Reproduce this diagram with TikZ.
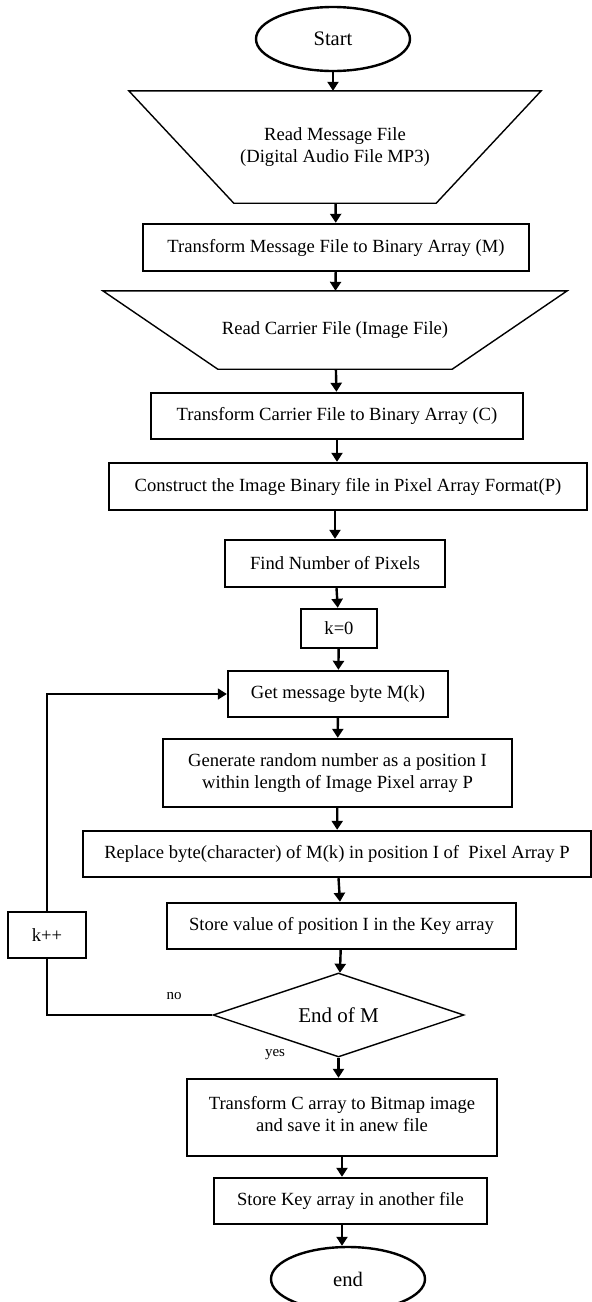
\documentclass[tikz,border=0pt]{standalone}
\usepackage{fontspec}
\setmainfont{Liberation Serif}
\usetikzlibrary{shapes.geometric,arrows.meta}

\begin{document}
\begin{tikzpicture}[x=0.5pt, y=-0.5pt, line width=1.2pt, >={Triangle[length=4.5pt,width=5.5pt]},
  blk/.style={draw, rectangle, inner sep=0pt, align=center, font=\fontsize{9.3}{11}\selectfont},
  term/.style={draw, ellipse, inner sep=0pt, minimum width=77pt, minimum height=32pt, font=\fontsize{10.3}{12}\selectfont},
  io/.style={inner sep=0pt, align=center, font=\fontsize{9.3}{11}\selectfont},
  thin line/.style={line width=0.7pt},
  lbl/.style={font=\fontsize{7.5}{9}\selectfont}]
  \useasboundingbox (0,0) rectangle (592,1302);
  \node[term] (start) at (333,39) {Start};
  \node[io, minimum width=205pt, minimum height=55pt] (rmsg) at (335,147) {Read Message File\\(Digital Audio File MP3)};
  \node[blk, minimum width=193pt, minimum height=23.5pt] (tmsg) at (336,247.5) {Transform Message File to Binary Array (M)};
  \node[io, minimum width=231pt, minimum height=38pt] (rcar) at (335,330) {Read Carrier File (Image File)};
  \node[blk, minimum width=186pt, minimum height=23pt] (tcar) at (337,416) {Transform Carrier File to Binary Array (C)};
  \node[blk, minimum width=239pt, minimum height=23.5pt] (cons) at (348,486.5) {Construct the Image Binary file in Pixel Array Format(P)};
  \node[blk, minimum width=110pt, minimum height=23.5pt] (find) at (335,563.5) {Find Number of Pixels};
  \node[blk, minimum width=38pt, minimum height=19.5pt] (kzero) at (339,628.5) {k=0};
  \node[blk, minimum width=110pt, minimum height=23pt] (getm) at (338,694) {Get message byte M(k)};
  \node[blk, minimum width=174.5pt, minimum height=34pt] (gen) at (337.5,773) {Generate random number as a position I\\within length of Image Pixel array P};
  \node[blk, minimum width=254pt, minimum height=23pt] (repl) at (337,854) {Replace byte(character) of M(k) in position I of\ \ Pixel Array P};
  \node[blk, minimum width=174.5pt, minimum height=23pt] (stval) at (341.5,926) {Store value of position I in the Key array};
  \node[draw, diamond, aspect=3, inner sep=0pt, thin line, minimum width=125.5pt, minimum height=42pt, font=\fontsize{10.5}{12}\selectfont] (endm) at (338.5,1015) {End of M};
  \node[blk, minimum width=39pt, minimum height=23pt] (kinc) at (47,935) {k++};
  \node[blk, minimum width=155pt, minimum height=38.5pt] (tcarr) at (342,1117.5) {Transform C array to Bitmap image\\and save it in anew file\\[-7pt]};
  \node[blk, minimum width=136.5pt, minimum height=23pt] (stkey) at (350.5,1201) {Store Key array in another file};
  \node[term] (endn) at (348,1279) {end};
  \node[lbl] (no) at (174,996) {no};
  \node[lbl] (yes) at (275,1055) {yes};
  \draw[thin line] (rmsg.north west) -- (rmsg.north east) -- ([xshift=-52.5pt]rmsg.south east) -- ([xshift=52.5pt]rmsg.south west) -- cycle;
  \draw[thin line] (rcar.north west) -- (rcar.north east) -- ([xshift=-57.5pt]rcar.south east) -- ([xshift=57.5pt]rcar.south west) -- cycle;
  \path[->] (start) edge (start |- rmsg.north)
         (rmsg) edge (tmsg)
         (tmsg) edge (rcar)
         (rcar) edge (tcar)
         (tcar) edge (tcar |- cons.north)
         (cons.south -| find) edge (find)
         (find) edge (kzero)
         (kzero) edge (getm)
         (getm) edge (gen)
         (gen) edge (repl)
         (repl) edge (stval)
         (stval) edge (endm)
         (endm) edge (endm |- tcarr.north)
         (tcarr) edge (tcarr |- stkey.north)
         (stkey.south -| tcarr) edge (tcarr |- endn.north);
  \draw[thin line] (endm.west) -- (kinc |- endm.west) -- (kinc.south);
  \draw[thin line, ->] (kinc.north) -- (kinc |- getm.west) -- (getm.west);
\end{tikzpicture}
\end{document}
